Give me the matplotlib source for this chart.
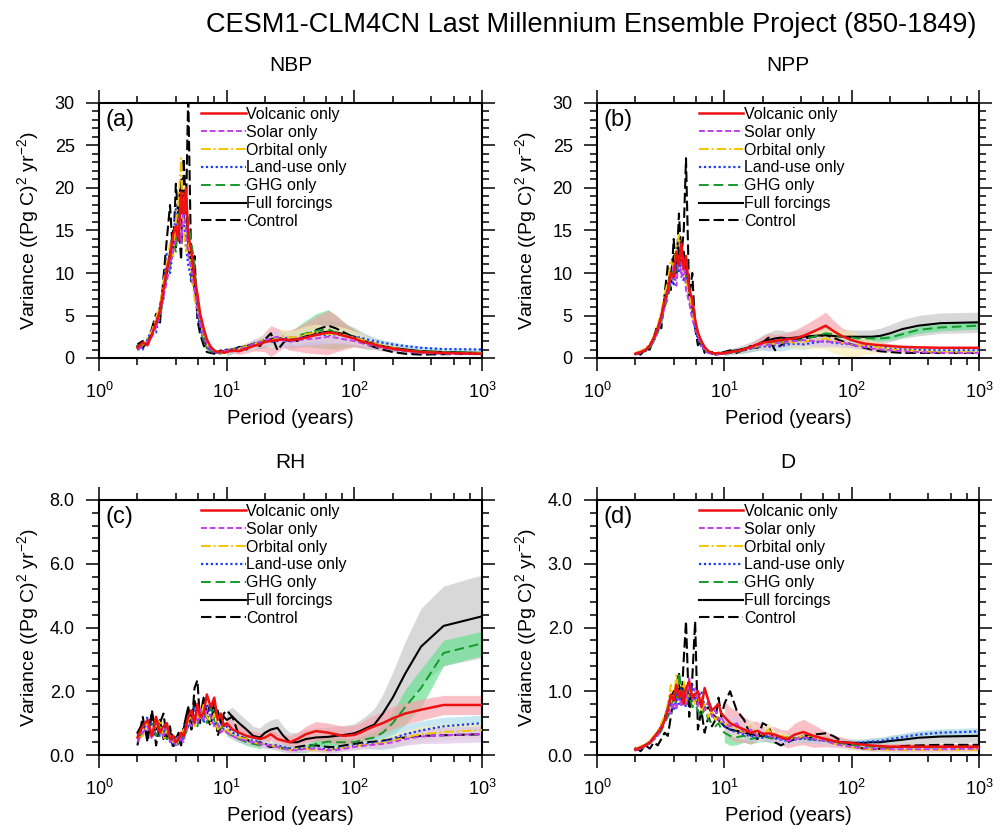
import numpy as np
import matplotlib
matplotlib.use("Agg")
import matplotlib.pyplot as plt
from matplotlib.ticker import LogLocator, MultipleLocator, FormatStrFormatter, NullFormatter

plt.rcParams['font.family'] = ['Liberation Sans', 'DejaVu Sans']
plt.rcParams['mathtext.fontset'] = 'custom'
plt.rcParams['mathtext.rm'] = 'Liberation Sans'
plt.rcParams['mathtext.it'] = 'Liberation Sans:italic'
plt.rcParams['mathtext.default'] = 'regular'

# period axis (years), shared by every curve
period = [2.0, 2.2, 2.4, 2.6, 2.8, 3.0, 3.2, 3.4, 3.6, 3.8, 4.0, 4.2, 4.4, 4.6, 4.8, 5.0, 5.3, 5.6, 5.9, 6.2, 6.6, 7.0, 7.5, 8.0, 8.5, 9.0, 9.5,
          10.0, 11.1, 12.5, 14.3, 16.1, 18.2, 20.0, 22.2, 25.0, 27.8, 31.3, 35.7, 41.7, 50.0, 62.5, 71.4, 83.3,
          100.0, 111.0, 125.0, 143.0, 167.0, 200.0, 250.0, 333.0, 500.0, 1000.0]
# ensemble spread is drawn for periods >= 10 yr
band_period = period[27:]

labels = ['Volcanic only', 'Solar only', 'Orbital only', 'Land-use only', 'GHG only', 'Full forcings', 'Control']

# ---- NBP ----
nbp_volc = [1.2, 1.8, 1.5, 2.8, 4.2, 5.5, 8.0, 10.5, 12.0, 14.5, 15.5, 13.8, 19.5, 17.0, 20.0, 14.5, 12.5, 9.5, 7.5, 5.2, 3.5, 2.2, 1.3, 0.9, 0.7, 0.8, 0.6,
            0.7, 0.9, 0.8, 1.1, 1.4, 1.6, 1.9, 2.0, 2.1, 2.2, 2.1, 2.2, 2.4, 2.7, 3.0, 2.9, 2.6,
            2.3, 2.0, 1.8, 1.6, 1.3, 1.1, 0.9, 0.7, 0.6, 0.5]
nbp_solar = [1.0, 1.4, 2.0, 2.5, 3.6, 5.0, 7.2, 9.0, 11.0, 12.5, 14.0, 16.5, 13.5, 18.0, 15.0, 12.0, 10.5, 8.0, 6.0, 4.0, 2.8, 1.6, 1.0, 0.7, 0.6, 0.7, 0.8,
             0.9, 0.8, 1.0, 1.3, 1.6, 1.9, 2.1, 2.3, 2.5, 2.0, 1.9, 2.1, 2.2, 2.3, 2.5, 2.4, 2.2,
             2.0, 1.8, 1.6, 1.4, 1.2, 1.0, 0.8, 0.6, 0.5, 0.45]
nbp_orb = [1.3, 1.6, 2.4, 3.2, 4.8, 6.0, 9.0, 11.0, 13.5, 12.0, 16.0, 18.5, 23.5, 15.0, 12.5, 14.0, 10.0, 7.0, 5.5, 4.5, 2.5, 1.5, 1.1, 0.8, 0.6, 0.5, 0.7,
           0.8, 1.0, 1.1, 1.4, 1.5, 2.0, 2.2, 2.0, 2.4, 2.6, 2.4, 2.5, 2.8, 3.0, 2.8, 2.8, 2.7,
           2.4, 2.2, 1.9, 1.7, 1.4, 1.2, 0.9, 0.7, 0.6, 0.55]
nbp_land = [1.1, 1.0, 2.2, 3.5, 3.0, 5.5, 7.0, 12.5, 10.0, 13.0, 17.5, 15.0, 14.0, 17.0, 13.0, 11.0, 9.0, 8.5, 5.0, 3.5, 2.0, 1.4, 0.9, 0.6, 0.6, 0.7, 0.9,
            0.8, 1.0, 1.2, 1.2, 1.7, 1.8, 2.2, 1.9, 2.0, 2.3, 2.4, 2.3, 2.6, 2.8, 2.7, 2.8, 2.6,
            2.5, 2.4, 2.2, 2.0, 1.8, 1.6, 1.4, 1.2, 1.05, 1.0]
nbp_ghg = [0.9, 1.5, 1.8, 2.6, 4.0, 4.5, 7.5, 9.5, 10.5, 13.5, 12.5, 17.0, 15.5, 16.0, 18.5, 16.0, 13.5, 11.0, 6.5, 4.2, 2.2, 1.3, 0.8, 0.5, 0.6, 0.5, 0.7,
           0.6, 0.8, 1.1, 1.3, 1.5, 1.7, 2.0, 2.1, 2.3, 2.2, 2.1, 2.6, 2.9, 3.2, 3.4, 3.0, 2.7,
           2.4, 2.1, 1.8, 1.6, 1.3, 1.1, 0.9, 0.8, 0.7, 0.6]
nbp_full = [1.4, 1.2, 1.9, 3.0, 3.8, 6.0, 8.5, 10.0, 12.5, 15.0, 13.0, 18.0, 21.0, 16.0, 19.5, 13.0, 11.0, 8.0, 6.0, 3.8, 2.4, 1.2, 0.9, 0.8, 0.7, 0.9, 0.7,
            0.9, 1.0, 1.2, 1.4, 1.6, 1.8, 2.0, 2.2, 2.4, 2.2, 2.0, 2.2, 2.5, 2.9, 3.1, 3.0, 2.8,
            2.5, 2.2, 1.9, 1.7, 1.4, 1.2, 1.0, 0.8, 0.7, 0.6]
nbp_ctrl = [1.6, 2.0, 1.4, 3.5, 5.2, 4.0, 9.5, 14.0, 18.0, 12.0, 20.5, 16.0, 11.5, 23.5, 17.0, 31.0, 9.0, 12.0, 4.5, 2.8, 1.5, 0.7, 0.6, 0.5, 0.9, 0.6, 0.8,
            1.0, 0.8, 1.3, 1.0, 1.8, 1.4, 2.2, 2.9, 0.9, 1.8, 2.4, 2.0, 2.6, 3.3, 3.8, 3.5, 3.0,
            2.4, 2.0, 1.6, 1.3, 1.0, 0.7, 0.5, 0.4, 0.45, 0.5]
nbp_volc_sd = [0.3, 0.3, 0.4, 0.5, 0.6, 0.8, 1.2, 1.8, 1.4, 1.0, 1.2, 1.4, 1.8, 2.2, 2.6, 2.2, 1.6, 1.0, 0.8, 0.6, 0.5, 0.4, 0.3, 0.25, 0.2, 0.15, 0.12]
nbp_solar_sd = [0.3, 0.3, 0.3, 0.4, 0.5, 0.6, 0.7, 0.8, 0.8, 0.7, 0.6, 0.6, 0.7, 0.8, 0.8, 0.7, 0.6, 0.5, 0.4, 0.35, 0.3, 0.25, 0.2, 0.15, 0.12, 0.1, 0.1]
nbp_orb_sd = [0.3, 0.3, 0.3, 0.4, 0.5, 0.6, 0.7, 0.8, 0.8, 0.8, 0.8, 0.9, 1.0, 1.0, 1.0, 1.0, 0.9, 0.8, 0.7, 0.6, 0.5, 0.4, 0.3, 0.25, 0.2, 0.15, 0.1]
nbp_land_sd = [0.3, 0.3, 0.3, 0.4, 0.5, 0.6, 0.7, 0.7, 0.8, 0.8, 0.8, 0.9, 1.0, 1.0, 1.0, 0.9, 0.8, 0.6, 0.5, 0.45, 0.4, 0.35, 0.3, 0.25, 0.2, 0.15, 0.15]
nbp_ghg_sd = [0.3, 0.3, 0.3, 0.4, 0.5, 0.6, 0.7, 0.8, 0.8, 0.8, 0.9, 1.1, 1.5, 2.0, 2.3, 2.0, 1.5, 1.0, 0.8, 0.6, 0.5, 0.4, 0.3, 0.25, 0.2, 0.15, 0.1]
nbp_full_sd = [0.3, 0.3, 0.3, 0.4, 0.5, 0.6, 0.7, 0.8, 0.8, 0.8, 0.9, 1.0, 1.2, 1.4, 1.4, 1.3, 1.2, 1.1, 1.0, 0.9, 0.7, 0.6, 0.5, 0.35, 0.25, 0.2, 0.15]

# ---- NPP ----
npp_volc = [0.5, 0.7, 0.9, 1.5, 2.4, 3.5, 5.0, 6.8, 8.0, 10.0, 9.5, 12.5, 11.0, 13.5, 10.5, 12.0, 8.0, 7.0, 4.5, 3.0, 2.0, 1.3, 0.8, 0.6, 0.5, 0.6, 0.5,
            0.6, 0.7, 0.8, 1.0, 1.3, 1.6, 1.8, 1.9, 2.0, 2.1, 2.2, 2.3, 2.6, 3.1, 3.8, 3.2, 2.6,
            2.1, 1.9, 1.7, 1.6, 1.5, 1.4, 1.3, 1.25, 1.2, 1.2]
npp_solar = [0.4, 0.6, 1.0, 1.3, 2.2, 3.0, 4.5, 6.0, 8.0, 9.0, 11.0, 8.5, 12.0, 9.5, 11.5, 8.0, 6.5, 4.5, 3.5, 2.5, 1.5, 1.0, 0.6, 0.5, 0.5, 0.4, 0.5,
             0.5, 0.6, 0.8, 1.0, 1.2, 1.4, 1.6, 1.5, 1.8, 1.7, 1.9, 2.0, 2.1, 2.0, 1.9, 1.9, 1.8,
             1.6, 1.4, 1.3, 1.1, 1.0, 0.9, 0.8, 0.7, 0.6, 0.6]
npp_orb = [0.6, 0.8, 1.2, 1.6, 2.6, 3.8, 5.5, 7.5, 9.0, 11.5, 10.5, 13.0, 14.5, 12.0, 10.0, 9.0, 7.5, 5.0, 4.0, 2.8, 1.8, 1.1, 0.7, 0.5, 0.5, 0.6, 0.5,
           0.6, 0.7, 0.8, 1.0, 1.2, 1.4, 1.5, 1.6, 1.7, 1.8, 1.9, 1.8, 1.9, 2.1, 2.3, 2.0, 1.8,
           1.6, 1.5, 1.4, 1.3, 1.2, 1.0, 0.9, 0.8, 0.7, 0.7]
npp_land = [0.5, 0.7, 0.8, 1.4, 2.0, 3.2, 5.0, 6.5, 7.5, 10.0, 8.5, 11.5, 10.0, 12.0, 9.0, 10.5, 7.0, 5.5, 3.5, 2.2, 1.4, 0.9, 0.6, 0.5, 0.4, 0.5, 0.6,
            0.6, 0.7, 0.8, 0.9, 1.1, 1.3, 1.4, 1.3, 1.5, 1.4, 1.6, 1.7, 1.6, 1.8, 2.0, 1.8, 1.7,
            1.6, 1.5, 1.4, 1.3, 1.2, 1.1, 1.0, 0.95, 0.9, 0.9]
npp_ghg = [0.4, 0.6, 0.9, 1.2, 2.0, 3.0, 4.2, 6.0, 7.0, 9.0, 11.0, 10.0, 11.5, 13.0, 11.0, 9.5, 8.5, 6.0, 4.5, 3.0, 1.8, 1.2, 0.7, 0.5, 0.5, 0.4, 0.5,
           0.5, 0.6, 0.7, 0.9, 1.1, 1.3, 1.5, 1.6, 1.8, 1.9, 1.8, 2.0, 2.2, 2.5, 2.9, 2.8, 2.5,
           2.4, 2.3, 2.3, 2.3, 2.3, 2.4, 2.8, 3.3, 3.6, 3.8]
npp_full = [0.5, 0.7, 1.0, 1.3, 2.3, 3.4, 4.8, 6.3, 8.5, 10.0, 12.0, 10.5, 13.0, 11.0, 12.5, 10.0, 8.0, 5.5, 4.0, 2.5, 1.6, 1.0, 0.7, 0.6, 0.5, 0.6, 0.6,
            0.7, 0.8, 0.9, 1.1, 1.3, 1.6, 1.9, 2.1, 2.3, 2.4, 2.3, 2.4, 2.5, 2.6, 2.7, 2.6, 2.5,
            2.5, 2.5, 2.5, 2.5, 2.6, 2.9, 3.4, 3.8, 4.1, 4.2]
npp_ctrl = [0.6, 0.4, 1.0, 1.0, 2.5, 4.0, 3.5, 7.5, 11.0, 8.0, 14.0, 10.0, 17.0, 12.0, 15.0, 23.5, 7.0, 10.0, 3.5, 1.5, 2.0, 0.6, 0.5, 0.7, 0.4, 0.6, 0.5,
            0.7, 0.9, 0.6, 1.0, 1.4, 1.2, 1.8, 2.4, 0.9, 1.5, 2.0, 2.2, 2.3, 2.5, 2.7, 2.4, 2.0,
            1.6, 1.4, 1.2, 1.0, 0.8, 0.7, 0.6, 0.6, 0.6, 0.6]
npp_volc_sd = [0.2, 0.2, 0.3, 0.3, 0.4, 0.6, 0.8, 1.0, 0.8, 0.7, 0.8, 1.0, 1.2, 1.4, 1.6, 1.3, 1.0, 0.8, 0.6, 0.5, 0.4, 0.35, 0.3, 0.25, 0.2, 0.15, 0.15]
npp_solar_sd = [0.2, 0.2, 0.2, 0.3, 0.3, 0.4, 0.4, 0.5, 0.5, 0.5, 0.5, 0.6, 0.6, 0.6, 0.6, 0.5, 0.5, 0.4, 0.35, 0.3, 0.3, 0.25, 0.2, 0.2, 0.15, 0.1, 0.1]
npp_orb_sd = [0.2, 0.2, 0.2, 0.3, 0.3, 0.4, 0.4, 0.5, 0.5, 0.5, 0.6, 0.7, 0.8, 1.0, 1.2, 1.4, 1.5, 1.5, 1.3, 1.0, 0.8, 0.6, 0.4, 0.3, 0.2, 0.15, 0.1]
npp_land_sd = [0.2, 0.2, 0.2, 0.3, 0.3, 0.4, 0.5, 0.5, 0.6, 0.6, 0.6, 0.6, 0.6, 0.6, 0.6, 0.5, 0.5, 0.45, 0.4, 0.35, 0.3, 0.3, 0.25, 0.2, 0.2, 0.15, 0.15]
npp_ghg_sd = [0.2, 0.2, 0.2, 0.3, 0.3, 0.4, 0.4, 0.5, 0.5, 0.5, 0.6, 0.6, 0.6, 0.6, 0.6, 0.5, 0.5, 0.4, 0.35, 0.3, 0.3, 0.3, 0.3, 0.35, 0.4, 0.4, 0.4]
npp_full_sd = [0.3, 0.3, 0.4, 0.5, 0.6, 0.7, 0.8, 0.9, 1.0, 0.9, 0.8, 0.8, 0.8, 0.8, 0.8, 0.8, 0.8, 0.8, 0.8, 0.8, 0.8, 0.9, 1.0, 1.1, 1.2, 1.2, 1.2]

# ---- RH ----
rh_volc = [0.55, 0.9, 1.1, 0.6, 1.2, 0.7, 0.9, 1.0, 0.5, 0.6, 0.4, 0.5, 0.7, 0.6, 0.9, 1.2, 1.4, 1.0, 1.6, 1.2, 1.3, 1.9, 1.5, 1.8, 1.1, 1.3, 0.9,
           1.0, 0.8, 0.7, 0.6, 0.55, 0.5, 0.55, 0.65, 0.5, 0.45, 0.4, 0.5, 0.65, 0.75, 0.7, 0.65, 0.6,
           0.63, 0.7, 0.8, 0.9, 1.0, 1.15, 1.3, 1.42, 1.57, 1.57]
rh_solar = [0.4, 0.7, 0.9, 0.5, 1.0, 0.8, 0.6, 0.9, 0.4, 0.5, 0.3, 0.6, 0.5, 0.4, 0.8, 1.0, 0.9, 1.3, 1.0, 1.5, 1.1, 1.4, 1.2, 0.9, 1.0, 0.7, 0.8,
            0.7, 0.6, 0.5, 0.45, 0.4, 0.35, 0.3, 0.3, 0.25, 0.2, 0.15, 0.15, 0.2, 0.2, 0.15, 0.15, 0.2,
            0.25, 0.28, 0.3, 0.32, 0.35, 0.4, 0.5, 0.58, 0.62, 0.66]
rh_orb = [0.5, 0.6, 1.0, 0.7, 0.9, 1.1, 0.5, 0.8, 0.6, 0.4, 0.5, 0.4, 0.6, 0.8, 0.7, 1.1, 1.2, 0.9, 1.4, 1.1, 1.6, 1.2, 1.0, 1.3, 0.8, 0.9, 0.7,
          0.8, 0.6, 0.55, 0.5, 0.4, 0.35, 0.35, 0.3, 0.25, 0.2, 0.15, 0.2, 0.2, 0.15, 0.15, 0.2, 0.22,
          0.28, 0.3, 0.32, 0.35, 0.38, 0.45, 0.55, 0.65, 0.72, 0.78]
rh_land = [0.6, 0.8, 1.2, 0.9, 1.0, 0.6, 0.8, 0.7, 0.5, 0.3, 0.6, 0.5, 0.4, 0.7, 1.0, 0.9, 1.3, 1.5, 1.1, 1.4, 1.0, 1.6, 1.3, 1.0, 0.9, 1.0, 0.8,
           0.9, 0.7, 0.6, 0.5, 0.45, 0.4, 0.35, 0.3, 0.3, 0.25, 0.2, 0.2, 0.2, 0.2, 0.18, 0.2, 0.25,
           0.3, 0.33, 0.35, 0.38, 0.42, 0.52, 0.65, 0.77, 0.9, 1.0]
rh_ghg = [0.5, 0.7, 0.8, 1.0, 0.6, 0.9, 0.7, 0.5, 0.6, 0.4, 0.5, 0.3, 0.6, 0.5, 0.7, 0.9, 1.1, 1.2, 0.9, 1.3, 1.4, 1.0, 1.5, 1.1, 0.9, 0.8, 1.0,
          0.7, 0.6, 0.5, 0.4, 0.35, 0.3, 0.35, 0.3, 0.25, 0.2, 0.2, 0.18, 0.2, 0.35, 0.42, 0.4, 0.4,
          0.4, 0.45, 0.5, 0.55, 0.7, 1.0, 1.5, 2.1, 3.2, 3.5]
rh_full = [0.7, 1.0, 0.6, 1.3, 0.8, 1.1, 0.5, 0.9, 0.7, 0.6, 0.5, 0.7, 0.4, 0.8, 1.2, 1.5, 1.0, 1.7, 1.4, 1.2, 1.8, 1.3, 1.6, 1.2, 1.4, 1.0, 1.2,
           1.1, 1.2, 1.0, 0.8, 0.6, 0.55, 0.7, 0.8, 0.85, 0.6, 0.4, 0.4, 0.5, 0.55, 0.57, 0.6, 0.63,
           0.68, 0.75, 0.85, 0.95, 1.3, 1.8, 2.55, 3.4, 4.05, 4.35]
rh_ctrl = [0.3, 1.2, 0.4, 1.4, 0.3, 1.0, 1.3, 0.5, 0.9, 0.2, 0.6, 0.5, 0.3, 0.9, 1.1, 1.4, 0.8, 2.1, 2.35, 1.0, 1.4, 1.2, 0.9, 1.7, 0.6, 0.9, 1.3,
           1.4, 1.2, 0.6, 0.5, 0.35, 0.4, 0.3, 0.25, 0.3, 0.2, 0.2, 0.25, 0.3, 0.3, 0.25, 0.25, 0.3,
           0.35, 0.38, 0.4, 0.42, 0.45, 0.5, 0.55, 0.6, 0.62, 0.65]
rh_volc_sd = [0.25, 0.25, 0.25, 0.2, 0.2, 0.2, 0.2, 0.2, 0.2, 0.2, 0.2, 0.2, 0.25, 0.3, 0.3, 0.3, 0.3, 0.3, 0.3, 0.35, 0.35, 0.37, 0.37, 0.35, 0.33, 0.3, 0.3]
rh_solar_sd = [0.1, 0.1, 0.1, 0.1, 0.1, 0.1, 0.1, 0.1, 0.1, 0.1, 0.08, 0.08, 0.08, 0.08, 0.08, 0.08, 0.08, 0.1, 0.1, 0.1, 0.12, 0.14, 0.16, 0.2, 0.22, 0.25, 0.25]
rh_orb_sd = [0.1, 0.1, 0.1, 0.1, 0.1, 0.1, 0.1, 0.1, 0.1, 0.1, 0.08, 0.08, 0.08, 0.08, 0.08, 0.08, 0.08, 0.1, 0.1, 0.12, 0.14, 0.16, 0.2, 0.22, 0.25, 0.25, 0.25]
rh_land_sd = [0.1, 0.1, 0.1, 0.1, 0.1, 0.1, 0.1, 0.1, 0.1, 0.1, 0.08, 0.08, 0.08, 0.08, 0.08, 0.08, 0.08, 0.1, 0.12, 0.15, 0.2, 0.25, 0.3, 0.3, 0.3, 0.28, 0.25]
rh_ghg_sd = [0.1, 0.1, 0.1, 0.1, 0.1, 0.1, 0.1, 0.1, 0.1, 0.1, 0.1, 0.1, 0.12, 0.15, 0.18, 0.15, 0.12, 0.12, 0.12, 0.15, 0.18, 0.22, 0.35, 0.55, 0.6, 0.4, 0.38]
rh_full_sd = [0.3, 0.3, 0.3, 0.3, 0.3, 0.3, 0.3, 0.3, 0.3, 0.3, 0.3, 0.3, 0.3, 0.3, 0.3, 0.3, 0.3, 0.3, 0.35, 0.4, 0.5, 0.6, 0.8, 1.0, 1.2, 1.25, 1.3]

# ---- D ----
d_volc = [0.08, 0.12, 0.15, 0.2, 0.28, 0.35, 0.42, 0.55, 0.7, 0.95, 0.85, 1.1, 0.9, 1.0, 0.8, 1.05, 1.15, 0.9, 0.95, 1.0, 0.75, 1.05, 0.85, 0.7, 0.75, 0.8, 0.65,
          0.6, 0.5, 0.45, 0.4, 0.35, 0.38, 0.33, 0.34, 0.32, 0.28, 0.25, 0.32, 0.36, 0.3, 0.25, 0.22, 0.2,
          0.19, 0.17, 0.16, 0.15, 0.14, 0.13, 0.13, 0.13, 0.13, 0.13]
d_solar = [0.07, 0.1, 0.14, 0.18, 0.25, 0.3, 0.45, 0.5, 0.75, 0.65, 0.9, 0.7, 1.0, 0.75, 0.95, 0.8, 1.2, 0.85, 1.05, 0.75, 0.9, 0.7, 0.85, 0.6, 0.7, 0.55, 0.6,
           0.5, 0.45, 0.5, 0.35, 0.4, 0.3, 0.35, 0.3, 0.28, 0.25, 0.22, 0.25, 0.28, 0.25, 0.22, 0.18, 0.15,
           0.13, 0.12, 0.11, 0.1, 0.1, 0.09, 0.09, 0.09, 0.09, 0.1]
d_orb = [0.1, 0.13, 0.18, 0.22, 0.3, 0.38, 0.5, 0.62, 0.8, 1.1, 0.85, 1.25, 0.9, 1.0, 1.15, 0.85, 1.0, 0.9, 0.8, 0.95, 0.7, 0.8, 0.6, 0.7, 0.55, 0.6, 0.5,
         0.5, 0.45, 0.4, 0.35, 0.45, 0.3, 0.32, 0.4, 0.28, 0.3, 0.27, 0.25, 0.3, 0.28, 0.22, 0.18, 0.15,
         0.12, 0.11, 0.1, 0.09, 0.09, 0.08, 0.08, 0.08, 0.08, 0.08]
d_land = [0.09, 0.11, 0.15, 0.2, 0.26, 0.33, 0.4, 0.55, 0.65, 0.8, 0.7, 0.95, 0.8, 1.05, 0.85, 0.75, 0.95, 1.1, 0.85, 0.9, 1.0, 0.75, 0.8, 0.65, 0.55, 0.6, 0.5,
          0.45, 0.4, 0.35, 0.32, 0.3, 0.28, 0.27, 0.3, 0.26, 0.24, 0.22, 0.24, 0.26, 0.24, 0.22, 0.2, 0.19,
          0.19, 0.19, 0.2, 0.21, 0.22, 0.25, 0.28, 0.32, 0.35, 0.37]
d_ghg = [0.08, 0.1, 0.13, 0.18, 0.24, 0.3, 0.38, 0.5, 0.6, 0.7, 0.95, 0.8, 1.3, 0.9, 1.0, 0.8, 0.95, 0.75, 0.8, 0.7, 0.6, 0.75, 0.55, 0.5, 0.45, 0.5, 0.4,
         0.35, 0.3, 0.28, 0.3, 0.25, 0.28, 0.3, 0.27, 0.25, 0.26, 0.28, 0.27, 0.25, 0.24, 0.22, 0.2, 0.18,
         0.16, 0.15, 0.14, 0.13, 0.12, 0.12, 0.12, 0.12, 0.12, 0.12]
d_full = [0.1, 0.12, 0.16, 0.2, 0.28, 0.36, 0.45, 0.58, 0.75, 0.9, 1.0, 0.85, 1.1, 0.95, 1.05, 0.9, 1.0, 0.85, 0.9, 0.8, 0.85, 0.7, 0.75, 0.65, 0.6, 0.55, 0.5,
          0.45, 0.4, 0.38, 0.35, 0.33, 0.3, 0.3, 0.28, 0.28, 0.26, 0.25, 0.26, 0.28, 0.27, 0.25, 0.22, 0.2,
          0.19, 0.19, 0.19, 0.2, 0.2, 0.22, 0.24, 0.27, 0.29, 0.3]
d_ctrl = [0.12, 0.06, 0.15, 0.1, 0.2, 0.15, 0.25, 0.35, 0.3, 0.6, 0.9, 1.1, 1.3, 0.8, 1.5, 2.1, 0.6, 1.2, 2.1, 0.4, 0.7, 0.35, 0.6, 0.45, 0.55, 0.9, 0.6,
          0.8, 1.0, 0.7, 0.55, 0.3, 0.25, 0.5, 0.45, 0.2, 0.15, 0.2, 0.25, 0.3, 0.32, 0.34, 0.3, 0.22,
          0.15, 0.12, 0.1, 0.09, 0.1, 0.12, 0.14, 0.15, 0.16, 0.16]
d_volc_sd = [0.25, 0.25, 0.25, 0.2, 0.18, 0.15, 0.12, 0.12, 0.12, 0.12, 0.14, 0.18, 0.2, 0.18, 0.12, 0.1, 0.08, 0.05, 0.05, 0.05, 0.05, 0.05, 0.05, 0.05, 0.05, 0.05, 0.05]
d_solar_sd = [0.15, 0.15, 0.12, 0.1, 0.1, 0.08, 0.08, 0.08, 0.07, 0.07, 0.06, 0.06, 0.06, 0.05, 0.05, 0.05, 0.04, 0.04, 0.04, 0.04, 0.04, 0.04, 0.04, 0.04, 0.04, 0.04, 0.04]
d_orb_sd = [0.15, 0.15, 0.12, 0.1, 0.1, 0.1, 0.08, 0.12, 0.08, 0.07, 0.06, 0.06, 0.06, 0.05, 0.05, 0.05, 0.04, 0.04, 0.04, 0.04, 0.04, 0.04, 0.04, 0.04, 0.04, 0.04, 0.04]
d_land_sd = [0.1, 0.1, 0.1, 0.08, 0.08, 0.07, 0.07, 0.06, 0.06, 0.06, 0.05, 0.05, 0.05, 0.05, 0.05, 0.05, 0.05, 0.05, 0.05, 0.05, 0.05, 0.05, 0.06, 0.06, 0.06, 0.06, 0.06]
d_ghg_sd = [0.15, 0.15, 0.12, 0.1, 0.08, 0.08, 0.08, 0.07, 0.07, 0.06, 0.06, 0.06, 0.05, 0.05, 0.05, 0.05, 0.04, 0.04, 0.04, 0.04, 0.04, 0.04, 0.04, 0.04, 0.04, 0.04, 0.04]
d_full_sd = [0.1, 0.1, 0.1, 0.08, 0.08, 0.07, 0.07, 0.06, 0.06, 0.06, 0.06, 0.06, 0.06, 0.06, 0.06, 0.06, 0.06, 0.06, 0.06, 0.06, 0.07, 0.08, 0.08, 0.09, 0.1, 0.1, 0.1]

# line styles: volcanic, solar, orbital, land-use, GHG, full, control
line_colors = ['#ee1111', '#c43cf0', '#f5c400', '#1a3cf0', '#149a2a', 'black', 'black']
line_styles = ['-', (0, (3, 1.5)), (0, (5, 1.5, 1, 1.5)), (0, (1, 1.2)), (0, (5, 2.5)), '-', (0, (5, 2))]
line_widths = [1.8, 1.4, 1.4, 1.6, 1.4, 1.5, 1.5]
band_colors = ['#f7a0aa', '#dcc0ee', '#f8ecb0', '#a8dcec', '#5fe08c', '#c4c4c4']
band_order = [5, 4, 0, 3, 2, 1]   # grey underneath, lavender on top
draw_order = [6, 5, 4, 3, 2, 1, 0]  # red drawn last

panels = [
    ('NBP', '(a)', [nbp_volc, nbp_solar, nbp_orb, nbp_land, nbp_ghg, nbp_full, nbp_ctrl],
     [nbp_volc_sd, nbp_solar_sd, nbp_orb_sd, nbp_land_sd, nbp_ghg_sd, nbp_full_sd], 30, 5, 1, '%d'),
    ('NPP', '(b)', [npp_volc, npp_solar, npp_orb, npp_land, npp_ghg, npp_full, npp_ctrl],
     [npp_volc_sd, npp_solar_sd, npp_orb_sd, npp_land_sd, npp_ghg_sd, npp_full_sd], 30, 5, 1, '%d'),
    ('RH', '(c)', [rh_volc, rh_solar, rh_orb, rh_land, rh_ghg, rh_full, rh_ctrl],
     [rh_volc_sd, rh_solar_sd, rh_orb_sd, rh_land_sd, rh_ghg_sd, rh_full_sd], 8, 2, 0.4, '%.1f'),
    ('D', '(d)', [d_volc, d_solar, d_orb, d_land, d_ghg, d_full, d_ctrl],
     [d_volc_sd, d_solar_sd, d_orb_sd, d_land_sd, d_ghg_sd, d_full_sd], 4, 1, 0.2, '%.1f'),
]

W, H = 1006, 835
fig = plt.figure(figsize=(W / 100, H / 100), dpi=100)
fig.text(591 / W, 1 - 25 / H, 'CESM1-CLM4CN Last Millennium Ensemble Project (850-1849)',
         ha='center', va='center', fontsize=19.5)

# axes boxes in pixels: left, bottom-edge y, right, top-edge y
boxes = [(99, 358, 482, 103), (597, 358, 979, 103), (99, 755, 482, 500), (597, 755, 979, 500)]

for (name, tag, series, spreads, ymax, major, minor, fmt), (x0, y0, x1, y1) in zip(panels, boxes):
    ax = fig.add_axes([x0 / W, 1 - y0 / H, (x1 - x0) / W, (y0 - y1) / H])
    bp = np.array(band_period)
    for i in band_order:
        mid = np.array(series[i][27:])
        sd = np.array(spreads[i])
        ax.fill_between(bp, np.maximum(mid - sd, 0), mid + sd, color=band_colors[i],
                        alpha=0.65, lw=0, zorder=1)
    handles = [None] * 7
    for i in draw_order:
        ln, = ax.plot(period, series[i], color=line_colors[i], ls=line_styles[i],
                      lw=line_widths[i], zorder=3 + (7 - i) * 0.1, label=labels[i])
        handles[i] = ln
    ax.set_xscale('log')
    ax.set_xlim(1, 1000)
    ax.set_ylim(0, ymax)
    ax.xaxis.set_major_locator(LogLocator(base=10, numticks=10))
    ax.xaxis.set_minor_locator(LogLocator(base=10, subs=(2, 4, 6, 8), numticks=20))
    ax.xaxis.set_minor_formatter(NullFormatter())
    ax.yaxis.set_major_locator(MultipleLocator(major))
    ax.yaxis.set_minor_locator(MultipleLocator(minor))
    ax.yaxis.set_major_formatter(FormatStrFormatter(fmt))
    ax.tick_params(which='both', direction='out', top=True, right=True, width=1.1, labelsize=13)
    ax.tick_params(which='major', length=9.5, pad=8)
    ax.tick_params(which='minor', length=5)
    for s in ax.spines.values():
        s.set_linewidth(1.5)

    ax.set_xlabel('Period (years)', fontsize=14.5)
    ax.xaxis.set_label_coords(0.5, -0.2)
    ax.set_ylabel('Variance ((Pg C)$^{2}$ yr$^{-2}$)', fontsize=14)
    ax.yaxis.set_label_coords(-0.151, 0.5)

    ax.text(0.5, 1 + 32 / 255, name, transform=ax.transAxes, ha='center', va='baseline', fontsize=15)
    ax.text(0.018, 0.975, tag, transform=ax.transAxes, ha='left', va='top', fontsize=17)

    ax.legend(handles, labels, loc='upper left', bbox_to_anchor=(0.266, 0.985), frameon=False,
              fontsize=11.5, handlelength=2.8, handletextpad=0.05, labelspacing=0.18,
              borderpad=0, borderaxespad=0)

fig.savefig('out.png', dpi=100)
